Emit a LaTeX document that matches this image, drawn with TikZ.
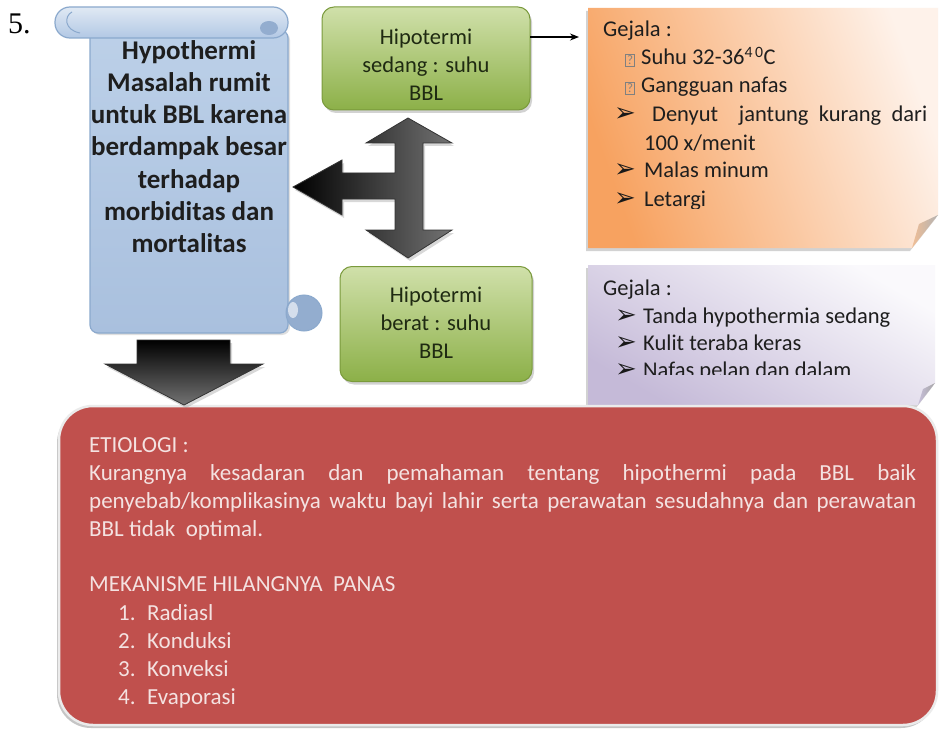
\documentclass[tikz,border=0pt]{standalone}
\usepackage{fontspec}
\setmainfont{Carlito}
\newfontfamily\numfont{Liberation Serif}
\newfontfamily\symfont{DejaVu Sans}
\usetikzlibrary{shadows,arrows.meta}
\definecolor{txtdark}{HTML}{1E1E1E}
\definecolor{gtext}{HTML}{1F2A12}
\definecolor{redfill}{HTML}{C0504D}
\definecolor{redtext}{HTML}{F4E2E1}
\definecolor{scEdge}{HTML}{8BA9CD}
\definecolor{scDark}{HTML}{93ADCF}
\definecolor{gEdge}{HTML}{7A9A3C}
\newcommand{\qboxglyph}{{\setlength\fboxsep{1.2pt}\setlength\fboxrule{0.8pt}\color{gray}\fbox{\fontsize{13}{13}\selectfont ?}}}
\newcommand{\arrbullet}{{\symfont\fontsize{26}{26}\selectfont\color{black!90}➢}}
\begin{document}
\begin{tikzpicture}[x=1pt,y=-1pt,
  txt/.style={inner sep=0, anchor=base west, font=\fontsize{22.5}{27}\selectfont, text=txtdark},
  redtxt/.style={inner sep=0, anchor=base west, font=\fontsize{23}{28}\selectfont, text=redtext},
  gtxt/.style={inner sep=0, anchor=base, font=\fontsize{22.5}{28}\selectfont, text=gtext},
  stxt/.style={inner sep=0, anchor=base, font=\bfseries\fontsize{27}{32}\selectfont, text=txtdark},
  gbox/.style={draw=gEdge, line width=1, rounded corners=12, top color={rgb,255:red,208;green,224;blue,170}, middle color={rgb,255:red,160;green,192;blue,96}, bottom color={rgb,255:red,140;green,176;blue,72}, drop shadow={opacity=0.35, shadow xshift=2pt, shadow yshift=-3pt}},
  conn/.style={-{Stealth[length=9pt,width=7pt]}, line width=1.2, black}
]
\useasboundingbox (0,0) rectangle (940,733);
\fill[white] (0,0) rectangle (940,733);

% number
\node[inner sep=0, anchor=base west, font=\numfont\fontsize{30}{30}\selectfont] (num) at (8,34) {5.};

% scroll
\shade[top color={rgb,255:red,188;green,208;blue,232}, middle color={rgb,255:red,226;green,234;blue,244}, bottom color={rgb,255:red,169;green,192;blue,222}, draw=scEdge, line width=1.2, rounded corners=8, drop shadow={opacity=0.25, shadow xshift=2pt, shadow yshift=-2pt}] (90,30) rectangle (288,333);
\shade[top color={rgb,255:red,224;green,233;blue,244}, bottom color={rgb,255:red,178;green,200;blue,228}, draw=scEdge, line width=1.2, rounded corners=15] (55,7) rectangle (288,38);
\draw[scEdge, line width=1] (72,12) .. controls (64,16) and (64,30) .. (80,33);
\fill[scDark] (269,28) ellipse (9 and 7);
\fill[scDark, draw=scEdge, line width=1] (304,313) circle (18);
\fill[white!60!scDark] (293,310) ellipse (5 and 8);

\node[stxt] (s1) at (189,60) {Hypothermi};
\node[stxt] (s2) at (189,92) {Masalah rumit};
\node[stxt] (s3) at (189,124) {untuk BBL karena};
\node[stxt] (s4) at (189,156) {berdampak besar};
\node[stxt] (s5) at (189,188) {terhadap};
\node[stxt] (s6) at (189,220) {morbiditas dan};
\node[stxt] (s7) at (189,252) {mortalitas};

% three-way arrow
\shade[left color=black, middle color=black!85, right color=black!55, draw=black!80, line width=0.8, drop shadow={opacity=0.3, shadow xshift=2pt, shadow yshift=-3pt}]
  (408,118) -- (452,143) -- (423,143) -- (423,230) -- (452,230) -- (408,258) -- (366,230) -- (395,230)
  -- (395,199) -- (342,199) -- (342,215) -- (293,187) -- (342,160) -- (342,173) -- (395,173)
  -- (395,143) -- (366,143) -- cycle;

% green boxes
\node[gbox, minimum width=208, minimum height=103, inner sep=0] (g1) at (426,58.5) {};
\node[gtxt] (g1a) at (426,45) {Hipotermi};
\node[gtxt] (g1b) at (426,73) {sedang : suhu};
\node[gtxt] (g1c) at (426,101) {BBL};

\node[gbox, minimum width=192, minimum height=115, inner sep=0] (g2) at (436,324) {};
\node[gtxt] (g2a) at (436,302) {Hipotermi};
\node[gtxt] (g2b) at (436,330) {berat : suhu};
\node[gtxt] (g2c) at (436,358) {BBL};

% connector
\coordinate (ca) at (530,37);
\coordinate (cb) at (579,37);
\draw[conn] (ca) -- (cb);

% orange box
\shade[top color={rgb,255:red,254;green,242;blue,234}, middle color={rgb,255:red,251;green,212;blue,176}, bottom color={rgb,255:red,247;green,162;blue,96}, shading angle=-70, drop shadow={opacity=0.35, shadow xshift=-2pt, shadow yshift=-3pt}]
  (588,8) -- (938,8) -- (938,215) -- (912,248) -- (588,248) -- cycle;
\shade[left color={rgb,255:red,240;green,190;blue,150}, right color=black!30] (938,215) -- (912,248) -- (919,224) -- cycle;
\begin{scope}
\clip (588,8) rectangle (938,208);
\node[txt] (o1) at (603,37) {Gejala :};
\node[inner sep=0, anchor=base west] (ob1) at (625,65) {\qboxglyph};
\node[txt] (o2) at (641,65) {Suhu 32-36\textsuperscript{4\,0}C};
\node[inner sep=0, anchor=base west] (ob2) at (625,93) {\qboxglyph};
\node[txt] (o3) at (641,93) {Gangguan nafas};
\node[inner sep=0, anchor=base west] (ob3) at (614,122) {\arrbullet};
\node[txt] (o4) at (652,122) {\makebox[275pt][s]{Denyut\ \ jantung kurang dari}};
\node[txt] (o5) at (644,150) {100 x/menit};
\node[inner sep=0, anchor=base west] (ob4) at (614,178) {\arrbullet};
\node[txt] (o6) at (644,178) {Malas minum};
\node[inner sep=0, anchor=base west] (ob5) at (614,206) {\arrbullet};
\node[txt] (o7) at (644,206) {Letargi};
\end{scope}

% lavender box
\shade[top color={rgb,255:red,250;green,249;blue,252}, middle color={rgb,255:red,228;green,223;blue,238}, bottom color={rgb,255:red,197;green,186;blue,216}, shading angle=-30, drop shadow={opacity=0.35, shadow xshift=-2pt, shadow yshift=-3pt}]
  (588,265) -- (935,265) -- (935,383) -- (918,405) -- (588,405) -- cycle;
\shade[left color={rgb,255:red,200;green,192;blue,218}, right color=black!35] (935,383) -- (918,405) -- (923,389) -- cycle;
\begin{scope}
\clip (588,265) rectangle (935,374);
\node[txt] (l1) at (603,295) {Gejala :};
\node[inner sep=0, anchor=base west] (lb1) at (615,323) {\arrbullet};
\node[txt] (l2) at (643,323) {Tanda hypothermia sedang};
\node[inner sep=0, anchor=base west] (lb2) at (615,350) {\arrbullet};
\node[txt] (l3) at (643,350) {Kulit teraba keras};
\node[inner sep=0, anchor=base west] (lb3) at (615,377) {\arrbullet};
\node[txt] (l4) at (643,377) {Nafas pelan dan dalam};
\end{scope}

% red box
\path[fill=redfill, draw=white!92!black, line width=2.5, rounded corners=34, drop shadow={opacity=0.45, shadow xshift=-2pt, shadow yshift=-3pt}] (59,406) rectangle (937,725);
\node[redtxt] (r1) at (89,452) {ETIOLOGI :};
\node[redtxt] (r2) at (89,480) {\makebox[827pt][s]{Kurangnya kesadaran dan pemahaman tentang hipothermi pada BBL baik}};
\node[redtxt] (r3) at (89,508) {\makebox[827pt][s]{penyebab/komplikasinya waktu bayi lahir serta perawatan sesudahnya dan perawatan}};
\node[redtxt] (r4) at (89,536) {BBL tidak\ \ optimal.};
\node[redtxt] (r5) at (89,591) {MEKANISME HILANGNYA\ \ PANAS};
\node[redtxt] (n1) at (118,620) {1.};
\node[redtxt] (t1) at (147,620) {Radiasl};
\node[redtxt] (n2) at (118,648) {2.};
\node[redtxt] (t2) at (147,648) {Konduksi};
\node[redtxt] (n3) at (118,676) {3.};
\node[redtxt] (t3) at (147,676) {Konveksi};
\node[redtxt] (n4) at (118,704) {4.};
\node[redtxt] (t4) at (147,704) {Evaporasi};

% down arrow under scroll
\shade[top color=black, middle color=black!85, bottom color=black!55, draw=black!80, line width=0.8, drop shadow={opacity=0.3, shadow xshift=2pt, shadow yshift=-3pt}]
  (137,340) -- (230,340) -- (230,364) -- (263,364) -- (184,405) -- (105,364) -- (137,364) -- cycle;
\end{tikzpicture}
\end{document}
